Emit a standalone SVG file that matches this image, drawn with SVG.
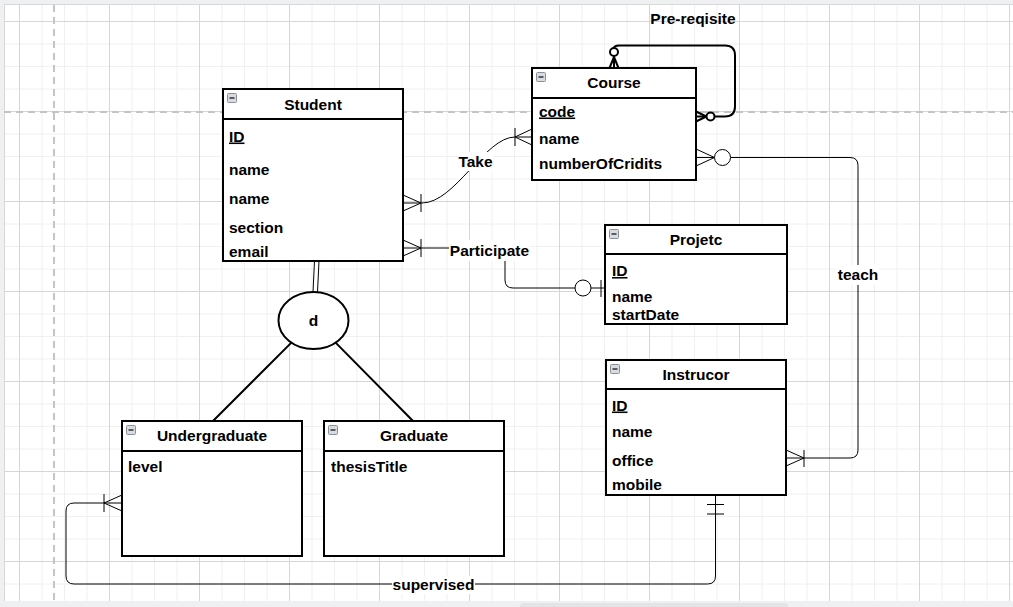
<svg xmlns="http://www.w3.org/2000/svg" width="1013" height="607" viewBox="0 0 1013 607">
<style>
.t{font-family:"Liberation Sans",Arial,sans-serif;font-weight:bold;font-size:15.5px;fill:#000}
.c{text-anchor:middle}
.u{text-decoration:underline}
.box{fill:#fff;stroke:#000;stroke-width:2}
.hd{stroke:#000;stroke-width:2}
.ln{fill:none;stroke:#000;stroke-width:1}
.ln2{fill:none;stroke:#000;stroke-width:2}
.lbl{fill:#fff;stroke:none}
.ic{fill:#d8dce0;stroke:#8a9098;stroke-width:1}
.icd{stroke:#333;stroke-width:1.5}
.pb{stroke:#c4c4c4;stroke-width:2;stroke-dasharray:7 5}
</style>
<defs>
<pattern id="grid" x="19" y="21" width="90" height="90" patternUnits="userSpaceOnUse">
<path d="M23,0V90M45.5,0V90M68,0V90M0,23H90M0,45.5H90M0,68H90" stroke="#f0f0f0" stroke-width="1" fill="none"/>
<path d="M0.5,0V90M0,0.5H90" stroke="#d6d6d6" stroke-width="1" fill="none"/>
</pattern>
<g id="minus">
<rect class="ic" x="0.5" y="0.5" width="9" height="9" rx="1"/>
<path class="icd" d="M2.5,5H7.5"/>
</g>
</defs>
<g id="background">
<rect x="0" y="0" width="1013" height="607" fill="#eef0f2"/>
<rect x="4" y="5" width="1009" height="596" fill="#fff"/>
<rect x="4" y="5" width="1009" height="596" fill="url(#grid)"/>
<path d="M4.5,5V601M4,4.5H1013" stroke="#d8d8d8" stroke-width="1"/>
<path class="pb" d="M54,5V601"/>
<path class="pb" d="M4,112H1013"/>
<rect x="520" y="603" width="268" height="8" rx="4" fill="#e2e4e6"/>
</g>
<g id="connectors">
<!-- Take -->
<path class="ln" d="M403,203H422C455,203 485,137 515,137H532"/>
<path class="ln" d="M421,194V212M403,195L421,203L403,211"/>
<path class="ln" d="M515,128V146M532,129L515,137L532,145"/>
<rect class="lbl" x="458" y="152" width="35" height="19"/>
<text class="t c" x="475.5" y="167">Take</text>
<!-- Participate -->
<path class="ln" d="M403,248H505V280Q505,288 513,288H605"/>
<path class="ln" d="M421,239V257M403,240L421,248L403,256"/>
<circle cx="583" cy="288" r="8" fill="#fff" stroke="#000" stroke-width="1"/>
<path class="ln" d="M601,280V297"/>
<rect class="lbl" x="449" y="240" width="81" height="21"/>
<text class="t c" x="489.5" y="256">Participate</text>
<!-- teach -->
<path class="ln" d="M696,157.5H714.5M730.5,157.5H850Q858,157.5 858,165.5V450Q858,458 850,458H786"/>
<path class="ln" d="M696,149L714.5,157.5L696,166"/>
<circle cx="722.5" cy="157.5" r="8" fill="#fff" stroke="#000" stroke-width="1"/>
<path class="ln" d="M804,450V467M786,450L804,458L786,466"/>
<rect class="lbl" x="837" y="265" width="42" height="20"/>
<text class="t c" x="858" y="280">teach</text>
<!-- supervised -->
<path class="ln" d="M715.5,495V576Q715.5,584 707.5,584H74Q66,584 66,576V511Q66,503 74,503H122"/>
<path class="ln" d="M707,504.5H724M707,514H724"/>
<path class="ln" d="M104,494V512M122,495L104,503L122,511"/>
<rect class="lbl" x="392" y="576" width="83" height="18"/>
<text class="t c" x="433.5" y="589.5">supervised</text>
<!-- Pre-reqisite self loop -->
<path class="ln2" d="M614,68V56M614,48Q614,45.5 619,45.5H725Q735,45.5 735,55.5V106.5Q735,116.5 725,116.5H714.5M706.5,116.5H696"/>
<path class="ln2" d="M609.5,68L614,57L618.5,68"/>
<circle cx="614" cy="52" r="4" fill="#fff" stroke="#000" stroke-width="2"/>
<path class="ln2" d="M696,111.5L706.5,116.5L696,121.5"/>
<circle cx="710.5" cy="116.5" r="4" fill="#fff" stroke="#000" stroke-width="2"/>
<text class="t c" x="693" y="24">Pre-reqisite</text>
<!-- disjoint -->
<path class="ln" d="M314.5,261L313,292M319,261L317.5,292"/>
<path class="ln2" d="M291.4,342.6L213,421M335.6,342.6L413,421"/>
</g>
<g id="d">
<ellipse cx="313.5" cy="320.5" rx="35" ry="28.5" fill="#fff" stroke="#000" stroke-width="2"/>
<text class="t c" x="313.5" y="326">d</text>
</g>
<g id="student">
<rect class="box" x="223" y="89" width="180" height="172"/>
<path class="hd" d="M223,119H403"/>
<use href="#minus" x="227" y="93"/>
<text class="t c" x="313" y="110">Student</text>
<text class="t u" x="229" y="141.5">ID</text>
<text class="t" x="229" y="175">name</text>
<text class="t" x="229" y="204">name</text>
<text class="t" x="229" y="232.5">section</text>
<text class="t" x="229" y="256.5">email</text>
</g>
<g id="course">
<rect class="box" x="532" y="68" width="164" height="112"/>
<path class="hd" d="M532,98H696"/>
<use href="#minus" x="536" y="72"/>
<text class="t c" x="614" y="88">Course</text>
<text class="t u" x="539" y="116.5">code</text>
<text class="t" x="539" y="144">name</text>
<text class="t" x="539" y="169">numberOfCridits</text>
</g>
<g id="projetc">
<rect class="box" x="605" y="225" width="182" height="99"/>
<path class="hd" d="M605,254H787"/>
<use href="#minus" x="609" y="229"/>
<text class="t c" x="696" y="245">Projetc</text>
<text class="t u" x="612" y="276">ID</text>
<text class="t" x="612" y="302">name</text>
<text class="t" x="612" y="320">startDate</text>
</g>
<g id="instrucor">
<rect class="box" x="606" y="360" width="180" height="135"/>
<path class="hd" d="M606,389H786"/>
<use href="#minus" x="610" y="364"/>
<text class="t c" x="696" y="380">Instrucor</text>
<text class="t u" x="612" y="410.5">ID</text>
<text class="t" x="612" y="437">name</text>
<text class="t" x="612" y="466">office</text>
<text class="t" x="612" y="490">mobile</text>
</g>
<g id="undergraduate">
<rect class="box" x="122" y="421" width="180" height="135"/>
<path class="hd" d="M122,451H302"/>
<use href="#minus" x="126" y="425"/>
<text class="t c" x="212" y="440.5">Undergraduate</text>
<text class="t" x="128" y="471.5">level</text>
</g>
<g id="graduate">
<rect class="box" x="324" y="421" width="180" height="135"/>
<path class="hd" d="M324,451H504"/>
<use href="#minus" x="328" y="425"/>
<text class="t c" x="414" y="440.5">Graduate</text>
<text class="t" x="331" y="471.5">thesisTitle</text>
</g>
</svg>
